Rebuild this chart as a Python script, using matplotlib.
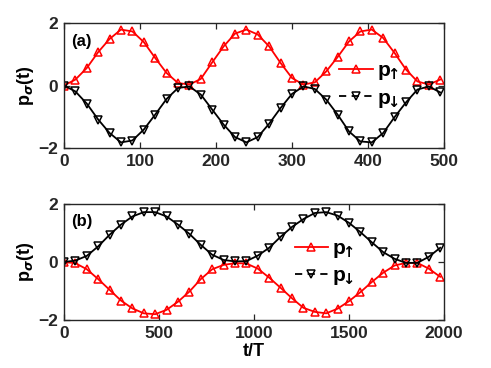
"""
plot.py

Spin populations p_up / p_down versus t/T for two cases (a) and (b),
drawn as two stacked panels in MATLAB-like style.
"""

import matplotlib
matplotlib.use("Agg")
import matplotlib.pyplot as plt
from matplotlib.lines import Line2D

# ---- data ----
# panel (a): samples every 15 units of t/T
t_a = list(range(0, 496, 15))
p_up_a = [0.00, 0.19, 0.56, 1.07, 1.49, 1.79, 1.73, 1.39, 0.88, 0.40, 0.08, 0.03,
          0.21, 0.74, 1.25, 1.66, 1.79, 1.63, 1.25, 0.72, 0.24, 0.03, 0.10, 0.45,
          0.91, 1.41, 1.73, 1.79, 1.52, 1.04, 0.51, 0.13, 0.03, 0.19]
p_down_a = [0.00, -0.19, -0.58, -1.09, -1.52, -1.82, -1.76, -1.41, -0.93, -0.43, -0.08, -0.03,
            -0.29, -0.77, -1.25, -1.65, -1.82, -1.65, -1.22, -0.72, -0.27, -0.03, -0.11, -0.45,
            -0.93, -1.47, -1.79, -1.82, -1.52, -1.01, -0.54, -0.13, -0.03, -0.22]

# panel (b): samples every 60 units of t/T
t_b = list(range(0, 1981, 60))
p_up_b = [0.00, -0.04, -0.25, -0.59, -0.96, -1.33, -1.60, -1.77, -1.80, -1.65, -1.37, -1.02,
          -0.59, -0.25, -0.10, -0.04, -0.05, -0.23, -0.54, -0.89, -1.25, -1.58, -1.72, -1.77,
          -1.61, -1.35, -1.04, -0.69, -0.37, -0.12, -0.03, -0.03, -0.23, -0.51]
p_down_b = [0.00, 0.05, 0.21, 0.54, 0.94, 1.29, 1.57, 1.72, 1.72, 1.57, 1.29, 0.97,
            0.59, 0.25, 0.07, 0.02, 0.03, 0.22, 0.49, 0.87, 1.21, 1.48, 1.69, 1.72,
            1.60, 1.35, 1.03, 0.68, 0.34, 0.11, -0.03, -0.03, 0.18, 0.49]

xticks_a = [0, 100, 200, 300, 400, 500]
xticks_b = [0, 500, 1000, 1500, 2000]
yticks = [-2, 0, 2]

plt.rcParams["font.family"] = ["Liberation Sans", "DejaVu Sans"]
plt.rcParams["font.weight"] = "bold"
plt.rcParams["mathtext.fontset"] = "dejavusans"

FRAME = "#262626"
MS = 5.8


def style_axes(ax, xlim, xticks):
    """MATLAB-like box with inward ticks on all four sides."""
    ax.set_xlim(*xlim)
    ax.set_ylim(-2, 2)
    ax.set_xticks(xticks)
    ax.set_yticks(yticks)
    ax.tick_params(direction="in", top=True, right=True, length=4, width=0.9,
                   colors=FRAME, labelsize=12.5, labelcolor=FRAME, pad=4)
    for lbl in ax.get_xticklabels() + ax.get_yticklabels():
        lbl.set_fontweight("bold")
    for sp in ax.spines.values():
        sp.set_color(FRAME)
        sp.set_linewidth(1.0)
    ax.set_ylabel(r"p$_\sigma$(t)", fontsize=13, fontweight="bold", labelpad=2)


def draw_panel(ax, t, up, down, tag, legend_loc):
    ax.plot(t, up, color="red", lw=1.3, marker="^", ms=MS, mfc="none",
            mec="red", mew=1.1)
    ax.plot(t, down, color="black", lw=1.3, marker="v", ms=MS, mfc="none",
            mec="black", mew=1.1)
    ax.text(0.02, 0.85, tag, transform=ax.transAxes, fontsize=12,
            fontweight="bold", va="center", ha="left")
    handles = [
        Line2D([], [], color="red", lw=1.3, marker="^", ms=MS, mfc="none",
               mec="red", mew=1.1),
        Line2D([], [], color="black", lw=1.3, ls=(0, (4, 3)), marker="v", ms=MS,
               mfc="none", mec="black", mew=1.1),
    ]
    ax.legend(handles, [r"p$_{\!\!\uparrow}$", r"p$_{\!\!\downarrow}$"],
              loc="center left", bbox_to_anchor=legend_loc, frameon=False, fontsize=15,
              handlelength=1.6, handletextpad=0.2, labelspacing=0.3,
              borderpad=0, borderaxespad=0)


fig = plt.figure(figsize=(4.91, 3.68), dpi=100)
ax_a = fig.add_axes([64 / 491, 1 - 148 / 368, 380 / 491, 125 / 368])
ax_b = fig.add_axes([64 / 491, 1 - 320 / 368, 380 / 491, 116 / 368])

draw_panel(ax_a, t_a, p_up_a, p_down_a, "(a)", (0.725, 0.50))
style_axes(ax_a, (0, 500), xticks_a)

draw_panel(ax_b, t_b, p_up_b, p_down_b, "(b)", (0.607, 0.49))
style_axes(ax_b, (0, 2000), xticks_b)
ax_b.set_xlabel("t/T", fontsize=13, fontweight="bold", labelpad=2)

fig.savefig("out.png", dpi=100)
